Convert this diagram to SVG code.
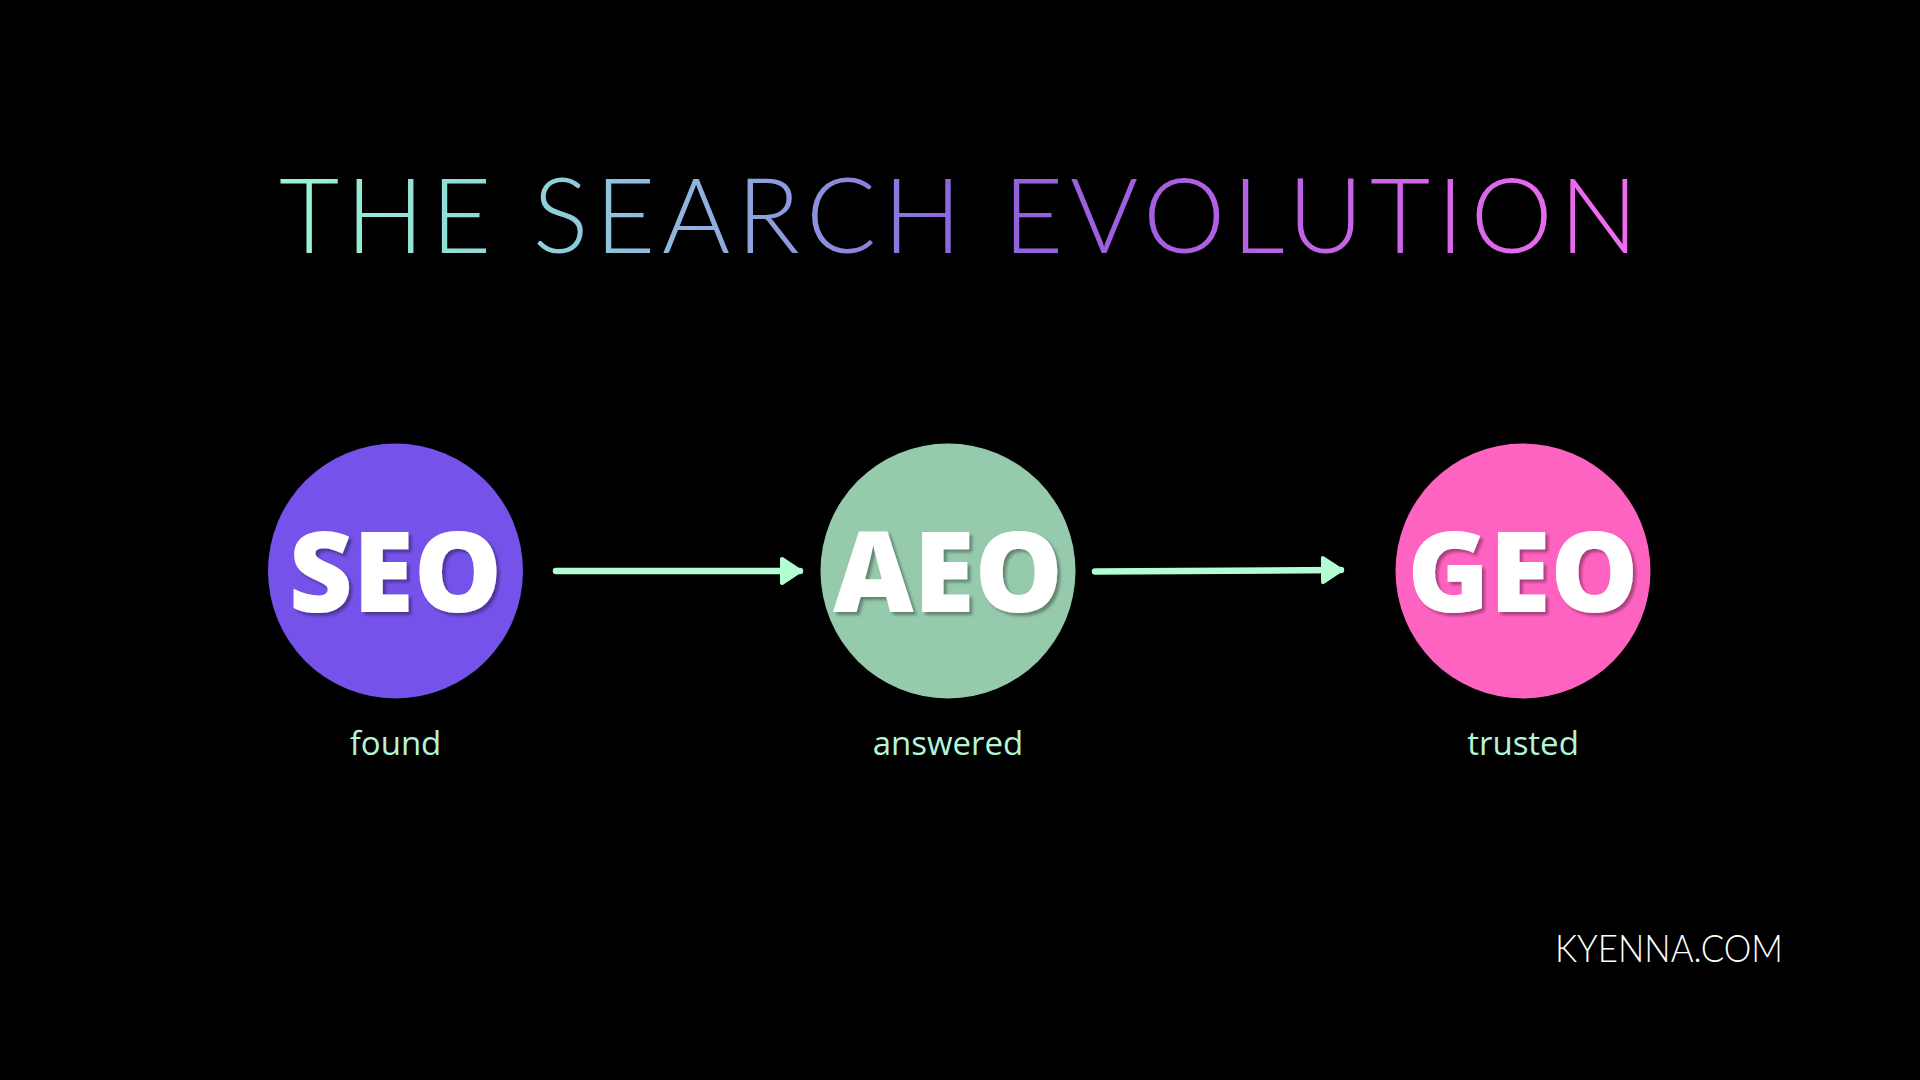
<svg xmlns="http://www.w3.org/2000/svg" width="1920" height="1080" viewBox="0 0 1920 1080">
<defs>
<linearGradient id="titleGrad" gradientUnits="userSpaceOnUse" x1="279" y1="0" x2="1638" y2="0">
<stop offset="0" stop-color="#96f6d4"/>
<stop offset="0.2" stop-color="#8fcfd9"/>
<stop offset="0.32" stop-color="#90aee0"/>
<stop offset="0.5" stop-color="#8a66dc"/>
<stop offset="0.62" stop-color="#a05ee0"/>
<stop offset="0.85" stop-color="#d466ea"/>
<stop offset="1" stop-color="#f46cf0"/>
</linearGradient>
<filter id="shadow" x="-10%" y="-10%" width="130%" height="130%">
<feDropShadow dx="3" dy="3" stdDeviation="1.5" flood-color="#000000" flood-opacity="0.35"/>
</filter>
<marker id="head" viewBox="0 0 24 30" refX="21" refY="15" markerWidth="24" markerHeight="30" markerUnits="userSpaceOnUse" orient="auto">
<path d="M3,3 L21,15 L3,27 Z" fill="#b3fdd2" stroke="#b3fdd2" stroke-width="4" stroke-linejoin="round"/>
</marker>
<style>
.node-text{font-family:"Open Sans","Noto Sans",sans-serif;font-weight:800;font-size:111px;fill:#ffffff;text-anchor:middle;}
.label{font-family:"Open Sans","Noto Sans",sans-serif;font-weight:400;font-size:33px;fill:#b3f5d6;text-anchor:middle;}
.conn{stroke:#b3fdd2;stroke-width:6.5;stroke-linecap:round;fill:none;}
</style>
</defs>
<rect width="1920" height="1080" fill="#000000"/>
<g id="title">
<text x="279" y="253" font-family="Lato,'Noto Sans',sans-serif" font-weight="300" font-size="104" fill="url(#titleGrad)" textLength="1359" lengthAdjust="spacing">THE SEARCH EVOLUTION</text>
</g>
<g id="connectors">
<line class="conn" x1="556" y1="571" x2="800" y2="571" marker-end="url(#head)"/>
<line class="conn" x1="1095" y1="571.5" x2="1341" y2="570" marker-end="url(#head)"/>
</g>
<g id="node-seo">
<circle cx="395.5" cy="571" r="127.5" fill="#7552e9"/>
<text class="node-text" x="395.5" y="612" filter="url(#shadow)">SEO</text>
<text class="label" x="395.5" y="755">found</text>
</g>
<g id="node-aeo">
<circle cx="948" cy="571" r="127.5" fill="#96caac"/>
<text class="node-text" x="948" y="612" filter="url(#shadow)">AEO</text>
<text class="label" x="948" y="755">answered</text>
</g>
<g id="node-geo">
<circle cx="1523" cy="571" r="127.5" fill="#ff63c1"/>
<text class="node-text" x="1523" y="612" filter="url(#shadow)">GEO</text>
<text class="label" x="1523" y="755">trusted</text>
</g>
<g id="footer">
<text x="1555" y="962" font-family="Lato,'Noto Sans',sans-serif" font-weight="300" font-size="38" fill="#ffffff" textLength="228" lengthAdjust="spacingAndGlyphs">KYENNA.COM</text>
</g>
</svg>
